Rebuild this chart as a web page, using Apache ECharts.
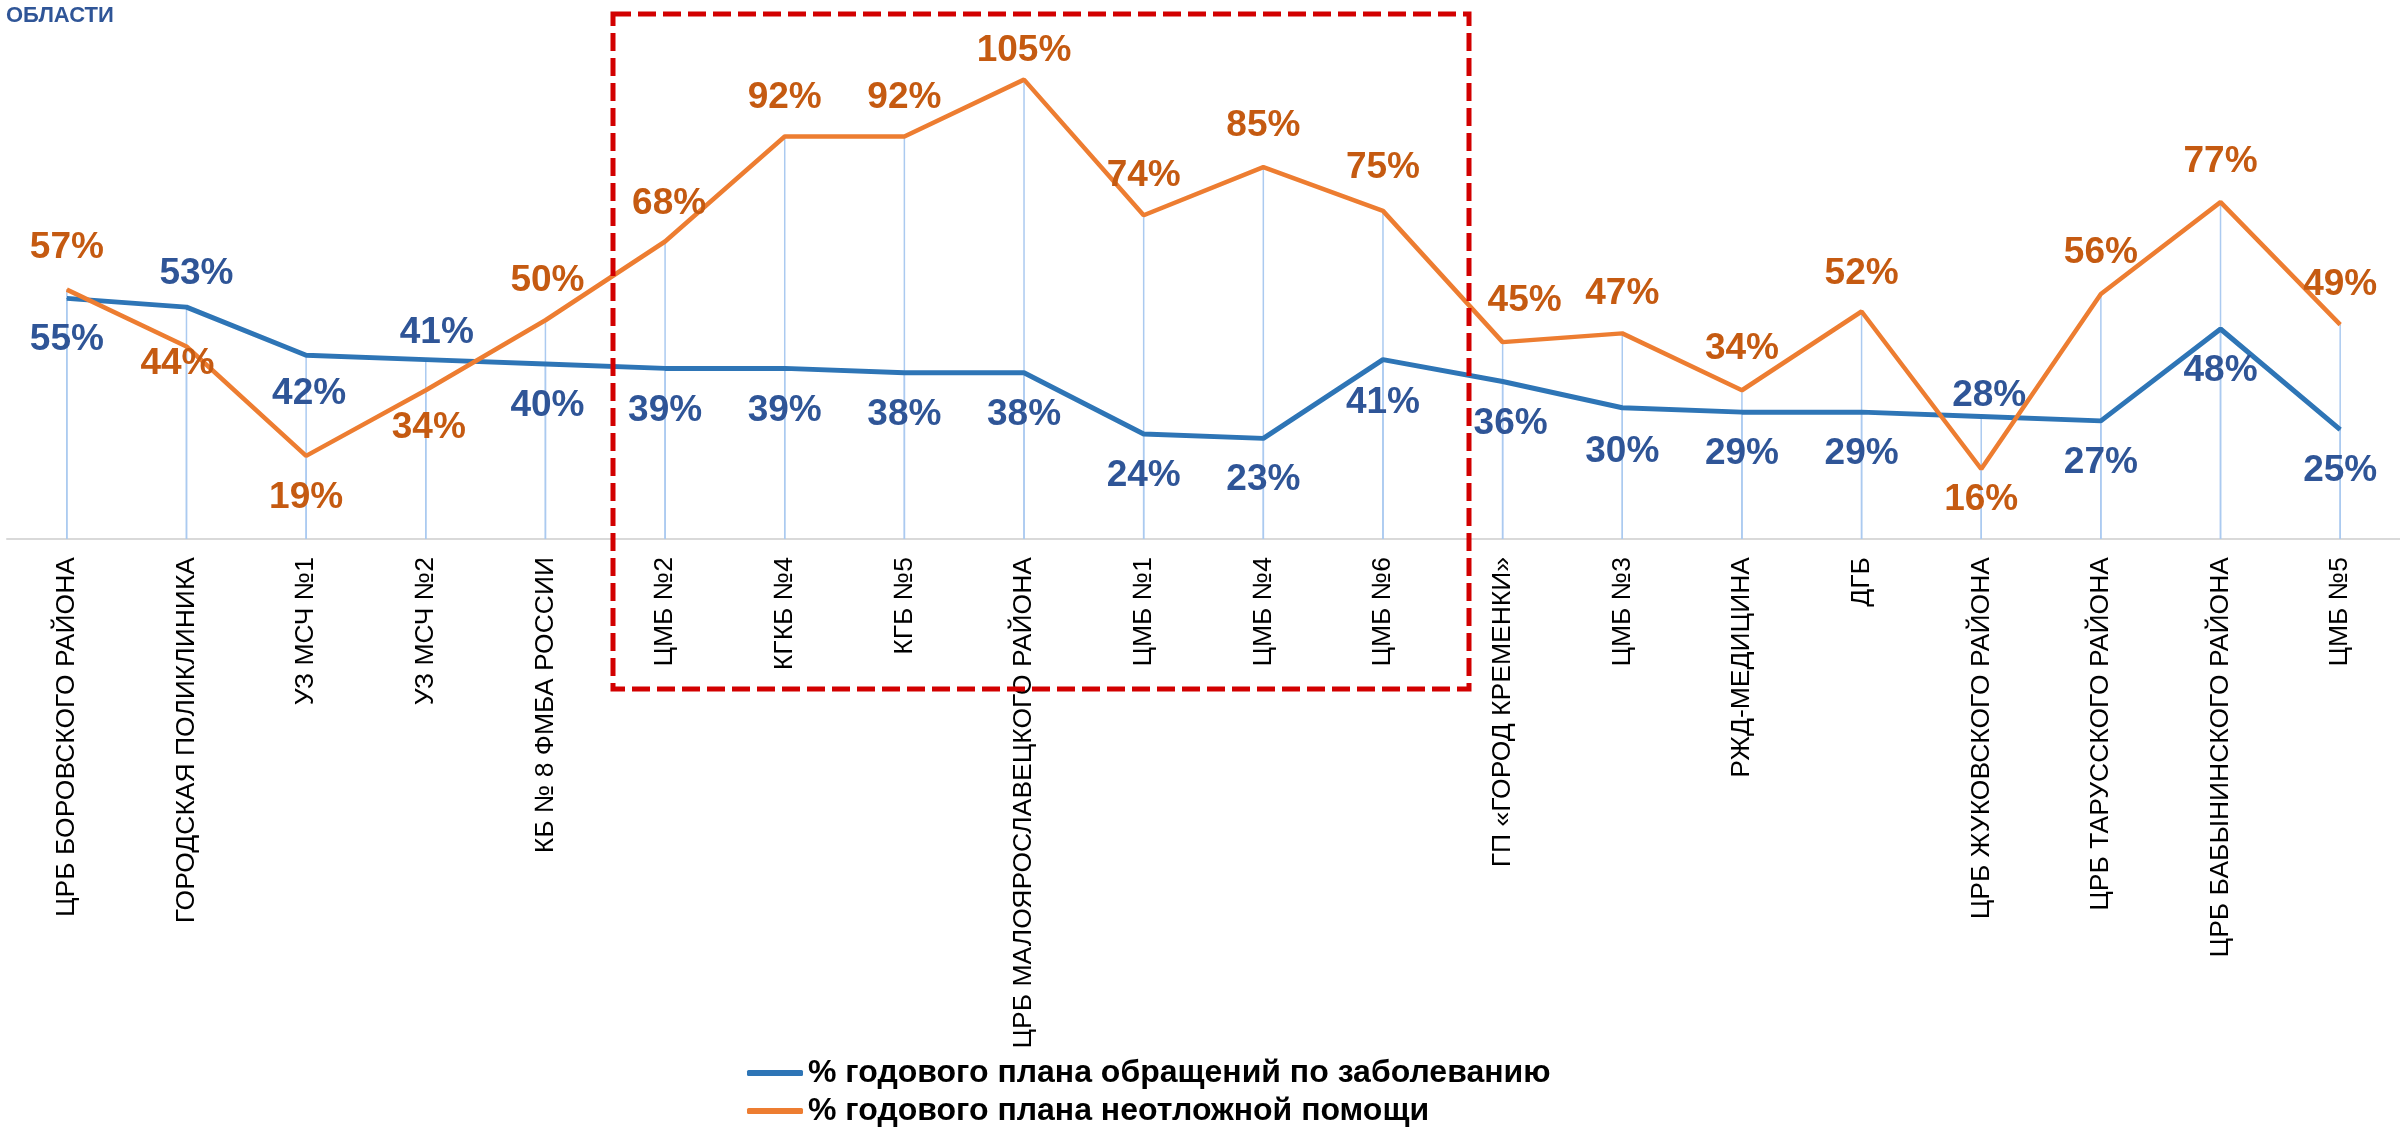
<!DOCTYPE html>
<html><head><meta charset="utf-8">
<script src="https://cdn.jsdelivr.net/npm/echarts@6/dist/echarts.min.js"></script>
<style>html,body{margin:0;padding:0;background:#fff}#c{width:2400px;height:1129px}</style>
</head><body><div id="c"></div>
<script>
const categories = [
  'ЦРБ БОРОВСКОГО РАЙОНА', 'ГОРОДСКАЯ ПОЛИКЛИНИКА', 'УЗ МСЧ №1', 'УЗ МСЧ №2', 'КБ № 8 ФМБА РОССИИ',
  'ЦМБ №2', 'КГКБ №4', 'КГБ №5', 'ЦРБ МАЛОЯРОСЛАВЕЦКОГО РАЙОНА', 'ЦМБ №1', 'ЦМБ №4', 'ЦМБ №6',
  'ГП «ГОРОД КРЕМЕНКИ»', 'ЦМБ №3', 'РЖД-МЕДИЦИНА', 'ДГБ', 'ЦРБ ЖУКОВСКОГО РАЙОНА',
  'ЦРБ ТАРУССКОГО РАЙОНА', 'ЦРБ БАБЫНИНСКОГО РАЙОНА', 'ЦМБ №5'
];
const planDisease = [55, 53, 42, 41, 40, 39, 39, 38, 38, 24, 23, 41, 36, 30, 29, 29, 28, 27, 48, 25];
const planUrgent  = [57, 44, 19, 34, 50, 68, 92, 92, 105, 74, 85, 75, 45, 47, 34, 52, 16, 56, 77, 49];
const seriesNames = ['% годового плана обращений по заболеванию', '% годового плана неотложной помощи'];
const headerText = 'ОБЛАСТИ';

// label placement (styling only)
const labelDyBlue   = [41, -33, 39, -27, 42, 42, 42, 42, 42, 42, 41, 43, 42, 44, 42, 42, -21, 42, 42, 41];
const labelDxBlue   = [0, 10, 3, 11, 2, 0, 0, 0, 0, 0, 0, 0, 8, 0, 0, 0, 8, 0, 0, 0];
const labelDyOrange = [-42, 17, 42, 38, -39, -38, -39, -39, -29, -39, -41, -43, -41, -40, -41, -38, 31, -41, -40, -40];
const labelDxOrange = [0, -9, 0, 3, 2, 4, 0, 0, 0, 0, 0, 0, 22, 0, 0, 0, 0, 0, 0, 0];

const chart = echarts.init(document.getElementById('c'));
const FONT = '"Liberation Sans", Arial, sans-serif';

function lineData(vals, dys, dxs) {
  return vals.map((v, i) => ({ value: v, label: { offset: [dxs[i], dys[i]] } }));
}

chart.setOption({
  animation: false,
  backgroundColor: '#fff',
  grid: { left: 7, right: -13, top: 14, bottom: 590, containLabel: false },
  legend: {
    data: seriesNames,
    orient: 'vertical', left: 747, top: 1057, padding: 0,
    itemWidth: 56, itemHeight: 6, itemGap: 6, icon: 'roundRect',
    textStyle: { fontSize: 32, fontWeight: 'bold', color: '#000', fontFamily: FONT, lineHeight: 32 }
  },
  xAxis: {
    type: 'category', data: categories, boundaryGap: true,
    axisLine: { show: true, lineStyle: { color: '#d9d9d9', width: 2 } },
    axisTick: { show: false },
    axisLabel: { interval: 0, rotate: 90, margin: 18, fontSize: 26.5, color: '#000', fontFamily: FONT }
  },
  yAxis: { type: 'value', min: 0, max: 120, show: false, splitLine: { show: false } },
  graphic: [
    { type: 'text', left: 6, top: 5, z: 100,
      style: { text: headerText, fontSize: 22, fontWeight: 'bold', fill: '#2f5597', fontFamily: FONT } },
    { type: 'rect', z: 100, silent: true,
      shape: { x: 613, y: 14, width: 856, height: 675 },
      style: { fill: 'none', stroke: '#d20000', lineWidth: 5, lineDash: [18, 7] } }
  ],
  series: [
    { type: 'bar', name: 'drop1', data: planDisease, barWidth: 1.5, barGap: '-100%', silent: true, z: 1,
      itemStyle: { color: '#abcaf0' } },
    { type: 'bar', name: 'drop2', data: planUrgent, barWidth: 1.5, barGap: '-100%', silent: true, z: 1,
      itemStyle: { color: '#abcaf0' } },
    { type: 'line', name: seriesNames[0], data: lineData(planDisease, labelDyBlue, labelDxBlue), z: 3,
      symbol: 'circle', symbolSize: 1, showSymbol: true,
      lineStyle: { color: '#2e75b6', width: 5 }, itemStyle: { color: '#2e75b6' },
      label: { show: true, position: 'inside', formatter: '{c}%', fontSize: 37, fontWeight: 'bold',
               color: '#2f5597', fontFamily: FONT } },
    { type: 'line', name: seriesNames[1], data: lineData(planUrgent, labelDyOrange, labelDxOrange), z: 4,
      symbol: 'circle', symbolSize: 1, showSymbol: true,
      lineStyle: { color: '#ed7d31', width: 4.5 }, itemStyle: { color: '#ed7d31' },
      label: { show: true, position: 'inside', formatter: '{c}%', fontSize: 37, fontWeight: 'bold',
               color: '#c55a11', fontFamily: FONT } }
  ]
});
</script></body></html>
